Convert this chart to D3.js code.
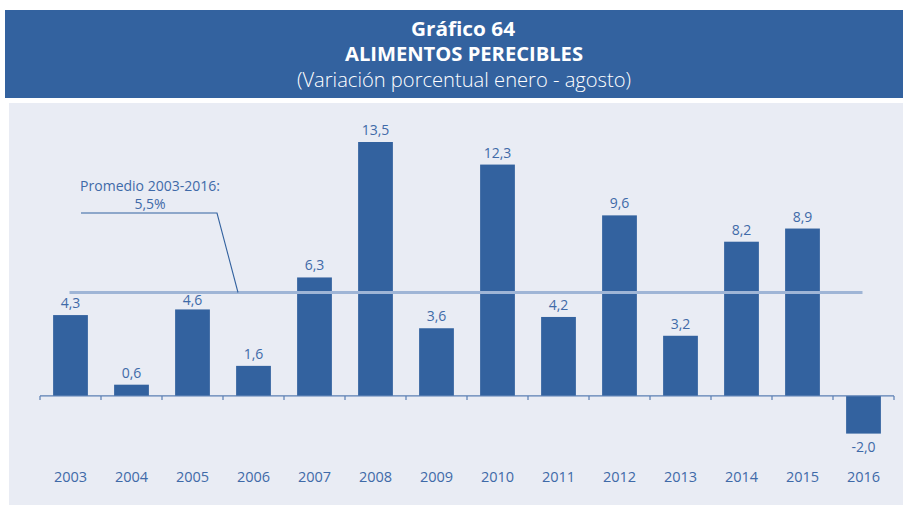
<!DOCTYPE html>
<html>
<head>
<meta charset="utf-8">
<script src="https://cdn.jsdelivr.net/npm/d3@7"></script>
<style>
  html, body { margin: 0; padding: 0; background: #ffffff; }
  svg { display: block; }
</style>
</head>
<body>
<svg id="chart" width="903" height="505"></svg>
<script>
// Perishable foods: percent change January–August
const years = ["2003","2004","2005","2006","2007","2008","2009","2010","2011","2012","2013","2014","2015","2016"];
const values = [4.3, 0.6, 4.6, 1.6, 6.3, 13.5, 3.6, 12.3, 4.2, 9.6, 3.2, 8.2, 8.9, -2.0];
const average = 5.5;
const titleLines = ["Gráfico 64", "ALIMENTOS PERECIBLES", "(Variación porcentual enero - agosto)"];
const avgLabel = ["Promedio 2003-2016:", "5,5%"];

const fmt = v => v.toFixed(1).replace(".", ",");
const font = "'Open Sans', 'Noto Sans', sans-serif";
const textBlue = "#3f6aa8";
const barBlue = "#33629f";

const svg = d3.select("#chart");

// Header band
svg.append("rect").attr("x", 5).attr("y", 10).attr("width", 898).attr("height", 88).attr("fill", barBlue);
svg.append("text").attr("x", 463).attr("y", 36).attr("text-anchor", "middle")
  .attr("font-family", font).attr("font-weight", 700).attr("font-size", 20).attr("fill", "#fff")
  .attr("textLength", 104).attr("lengthAdjust", "spacingAndGlyphs").text(titleLines[0]);
svg.append("text").attr("x", 464).attr("y", 61).attr("text-anchor", "middle")
  .attr("font-family", font).attr("font-weight", 700).attr("font-size", 20).attr("fill", "#fff")
  .attr("textLength", 238).attr("lengthAdjust", "spacingAndGlyphs").text(titleLines[1]);
svg.append("text").attr("x", 464).attr("y", 87).attr("text-anchor", "middle")
  .attr("font-family", font).attr("font-weight", 300).attr("font-size", 20).attr("fill", "#fff")
  .attr("textLength", 334).attr("lengthAdjust", "spacingAndGlyphs").text(titleLines[2]);

// Plot background
svg.append("rect").attr("x", 9).attr("y", 103).attr("width", 894).attr("height", 402).attr("fill", "#e9ecf4");

const x = d3.scaleBand().domain(years).range([40, 894]).paddingInner(0.43).paddingOuter(0.215);
const y = d3.scaleLinear().domain([-2, 13.5]).range([433.6, 142]);

// Bars
svg.append("g").selectAll("rect").data(values).join("rect")
  .attr("x", (d, i) => x(years[i]))
  .attr("y", d => y(Math.max(0, d)))
  .attr("width", x.bandwidth())
  .attr("height", d => Math.abs(y(d) - y(0)))
  .attr("fill", barBlue);

// Average line (behind the value labels)
svg.append("line")
  .attr("x1", x(years[0]) + x.bandwidth() / 2 - 1)
  .attr("x2", x(years[years.length - 1]) + x.bandwidth() / 2 - 1)
  .attr("y1", y(average)).attr("y2", y(average))
  .attr("stroke", "#9fb5d6").attr("stroke-width", 3);

// Value labels; labels just under the average line are tucked closer to their bar
const labelOffset = d => {
  const top = y(d) - 7 - 11;
  return (y(d) > y(average) && top < y(average) + 3) ? 4 : 7;
};
svg.append("g").selectAll("text").data(values).join("text")
  .attr("x", (d, i) => x(years[i]) + x.bandwidth() / 2)
  .attr("y", d => d >= 0 ? y(d) - labelOffset(d) : y(d) + 18)
  .attr("text-anchor", "middle")
  .attr("font-family", font).attr("font-size", 14).attr("fill", textBlue)
  .text(d => fmt(d));

// Zero axis with ticks at band boundaries
const step = x.step();
const axisG = svg.append("g").attr("stroke", "#5a7fb3").attr("stroke-width", 1.2);
axisG.append("line").attr("x1", 40).attr("x2", 894).attr("y1", y(0)).attr("y2", y(0));
axisG.selectAll("line.tick").data(d3.range(years.length + 1)).join("line").attr("class", "tick")
  .attr("x1", i => 40 + i * step).attr("x2", i => 40 + i * step)
  .attr("y1", y(0)).attr("y2", y(0) + 4);

// Year labels
svg.append("g").selectAll("text").data(years).join("text")
  .attr("x", d => x(d) + x.bandwidth() / 2)
  .attr("y", 482)
  .attr("text-anchor", "middle")
  .attr("font-family", font).attr("font-size", 14.5).attr("fill", textBlue)
  .text(d => d);

// Average annotation with leader line
svg.append("path")
  .attr("d", `M81,213 L217,213 L238,${y(average)}`)
  .attr("fill", "none").attr("stroke", barBlue).attr("stroke-width", 1.1);
svg.append("text").attr("x", 150).attr("y", 191).attr("text-anchor", "middle")
  .attr("font-family", font).attr("font-size", 14).attr("fill", textBlue).text(avgLabel[0]);
svg.append("text").attr("x", 150).attr("y", 209).attr("text-anchor", "middle")
  .attr("font-family", font).attr("font-size", 14).attr("fill", textBlue).text(avgLabel[1]);
</script>
</body>
</html>
